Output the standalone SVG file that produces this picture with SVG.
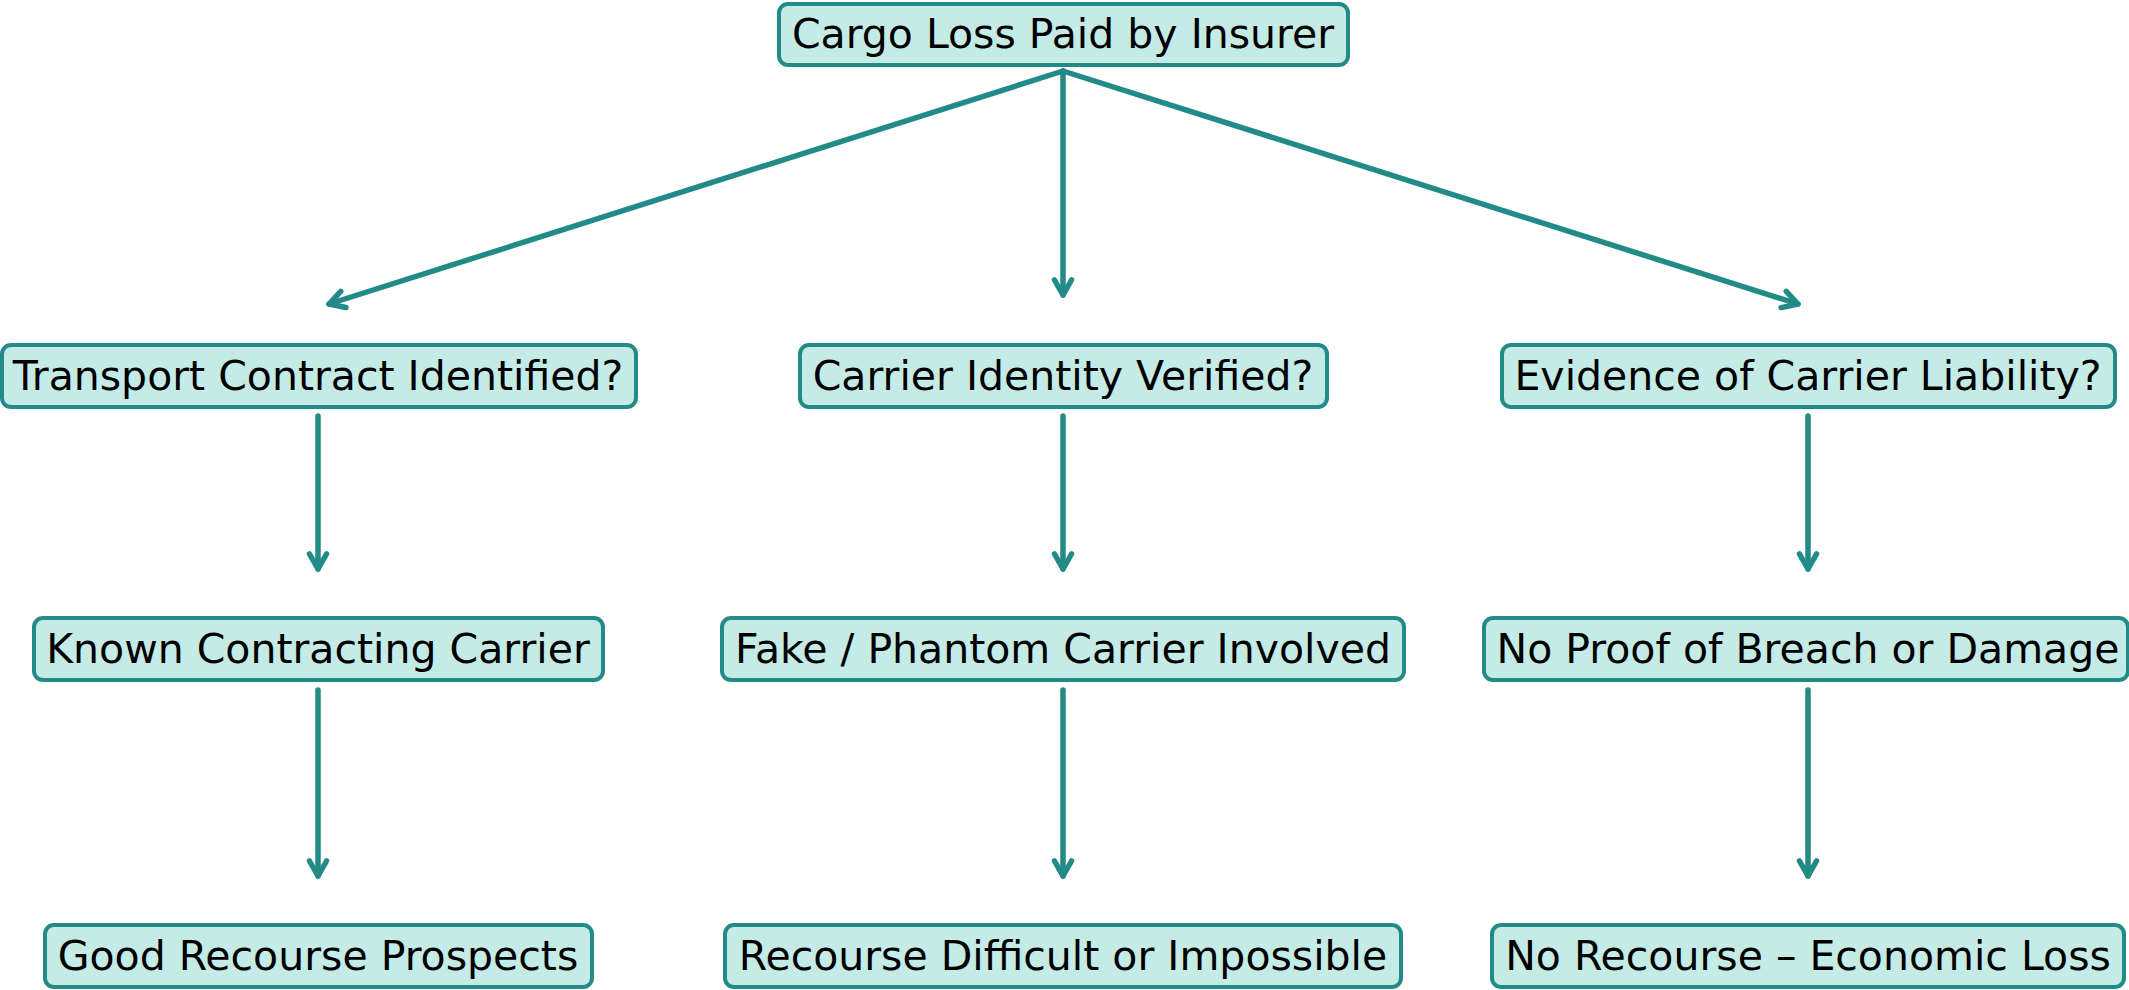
<svg xmlns="http://www.w3.org/2000/svg" width="2129" height="990" viewBox="0 0 2129 990">
<defs>
<style>
.box{fill:#c5ebe6;stroke:#228b88;stroke-width:4}
.lbl{font-family:"DejaVu Sans",sans-serif;font-size:41px;fill:#000;text-anchor:middle}
.edge{stroke:#228b88;stroke-width:5.5;fill:none;stroke-linecap:round}
</style>
<marker id="ah" markerUnits="userSpaceOnUse" markerWidth="30" markerHeight="30" refX="0" refY="0" viewBox="-20 -15 25 30" orient="auto">
<path d="M-15,-8.5 L0,0 L-15,8.5" fill="none" stroke="#228b88" stroke-width="5.5" stroke-linecap="round" stroke-linejoin="round"/>
</marker>
</defs>
<rect width="2129" height="990" fill="#fff"/>
<g id="connectors">
<line class="edge" x1="1063" y1="71" x2="329" y2="304" marker-end="url(#ah)"/>
<line class="edge" x1="1063" y1="71" x2="1063" y2="295" marker-end="url(#ah)"/>
<line class="edge" x1="1063" y1="71" x2="1798" y2="304" marker-end="url(#ah)"/>
<line class="edge" x1="318" y1="416" x2="318" y2="569" marker-end="url(#ah)"/>
<line class="edge" x1="1063" y1="416" x2="1063" y2="569" marker-end="url(#ah)"/>
<line class="edge" x1="1808" y1="416" x2="1808" y2="569" marker-end="url(#ah)"/>
<line class="edge" x1="318" y1="690" x2="318" y2="876" marker-end="url(#ah)"/>
<line class="edge" x1="1063" y1="690" x2="1063" y2="876" marker-end="url(#ah)"/>
<line class="edge" x1="1808" y1="690" x2="1808" y2="876" marker-end="url(#ah)"/>
</g>
<g id="n_root"><rect class="box" x="779" y="4" width="569" height="61" rx="9"/><text class="lbl" x="1063" y="48">Cargo Loss Paid by Insurer</text></g>
<g id="n_contract"><rect class="box" x="2" y="345" width="634" height="62" rx="9"/><text class="lbl" x="318" y="390">Transport Contract Identified?</text></g>
<g id="n_identity"><rect class="box" x="800" y="345" width="527" height="62" rx="9"/><text class="lbl" x="1063" y="390">Carrier Identity Verified?</text></g>
<g id="n_evidence"><rect class="box" x="1502" y="345" width="613" height="62" rx="9"/><text class="lbl" x="1808" y="390">Evidence of Carrier Liability?</text></g>
<g id="n_known"><rect class="box" x="34" y="618" width="569" height="62" rx="9"/><text class="lbl" x="318" y="663">Known Contracting Carrier</text></g>
<g id="n_fake"><rect class="box" x="722" y="618" width="682" height="62" rx="9"/><text class="lbl" x="1063" y="663">Fake / Phantom Carrier Involved</text></g>
<g id="n_noproof"><rect class="box" x="1484" y="618" width="644" height="62" rx="9"/><text class="lbl" x="1808" y="663">No Proof of Breach or Damage</text></g>
<g id="n_good"><rect class="box" x="45" y="925" width="547" height="62" rx="9"/><text class="lbl" x="318" y="970">Good Recourse Prospects</text></g>
<g id="n_difficult"><rect class="box" x="725" y="925" width="676" height="62" rx="9"/><text class="lbl" x="1063" y="970">Recourse Difficult or Impossible</text></g>
<g id="n_norecourse"><rect class="box" x="1492" y="925" width="632" height="62" rx="9"/><text class="lbl" x="1808" y="970">No Recourse – Economic Loss</text></g>
</svg>
